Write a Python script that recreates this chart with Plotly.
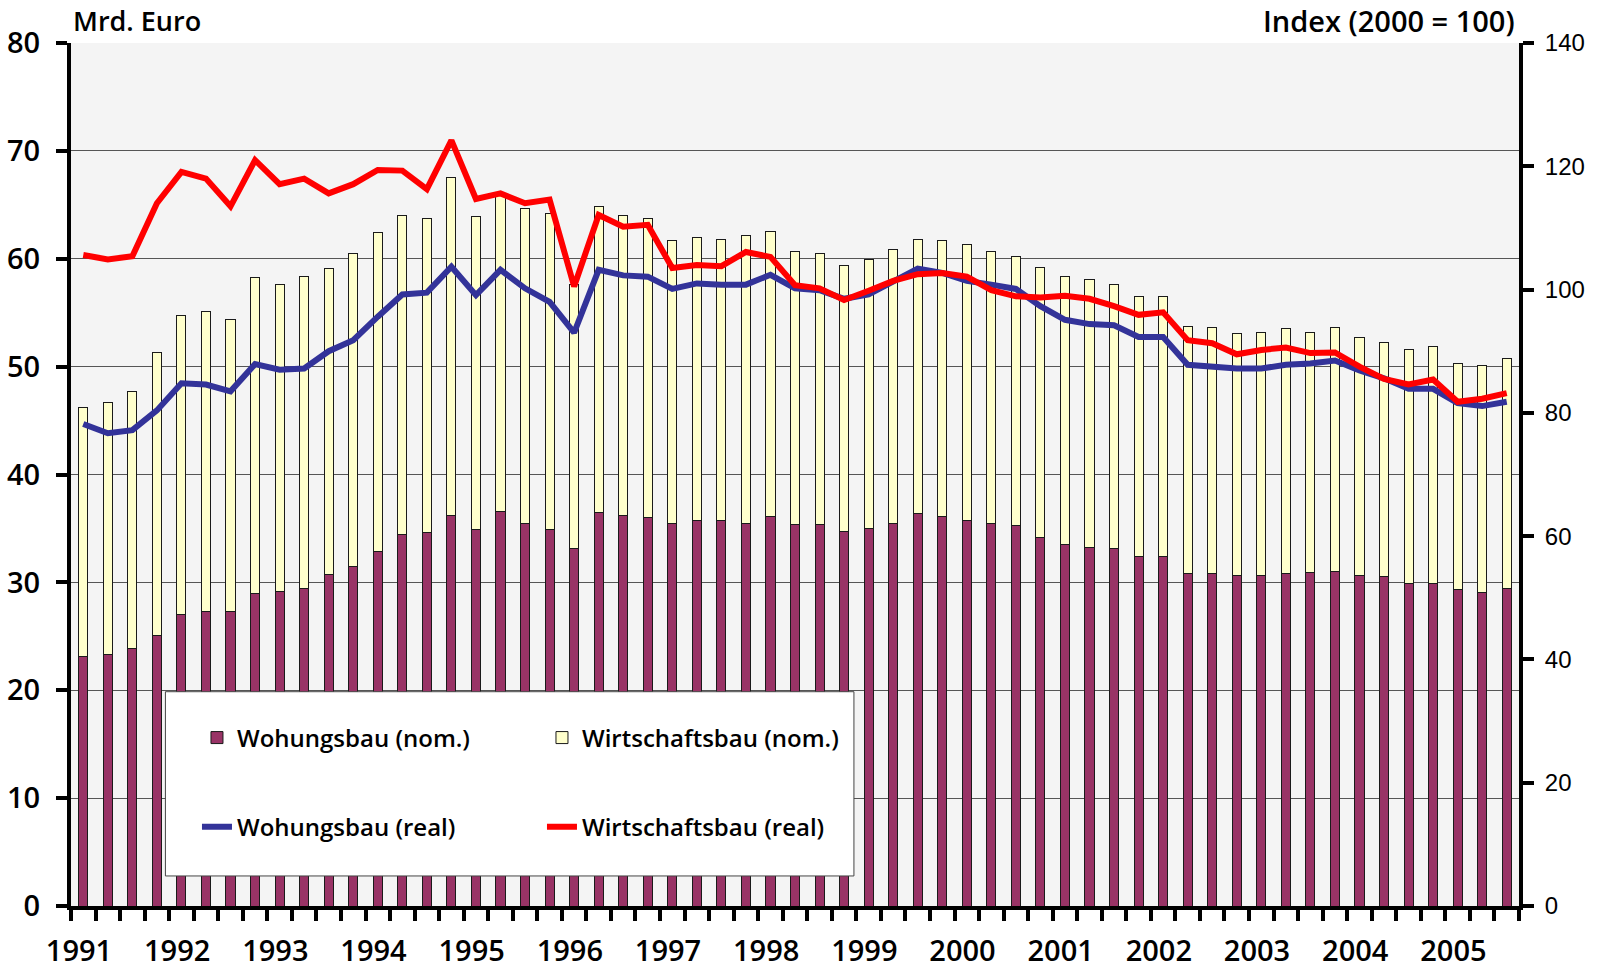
import plotly.graph_objects as go

# ---------------- data ----------------
quarters = [f"{y} Q{q}" for y in range(1991, 2006) for q in range(1, 5)][:59]
years = [str(y) for y in range(1991, 2006)]

wohnungsbau_nom = [23.1, 23.3, 23.9, 25.1, 27.0, 27.3, 27.3, 29.0, 29.2, 29.4,
                   30.7, 31.5, 32.9, 34.4, 34.6, 36.2, 34.9, 36.6, 35.5, 34.9,
                   33.1, 36.5, 36.2, 36.0, 35.5, 35.7, 35.7, 35.5, 36.1, 35.4,
                   35.4, 34.7, 35.0, 35.5, 36.4, 36.1, 35.7, 35.5, 35.3, 34.2,
                   33.5, 33.2, 33.1, 32.4, 32.4, 30.8, 30.8, 30.6, 30.6, 30.8,
                   30.9, 31.0, 30.6, 30.5, 29.9, 29.9, 29.3, 29.1, 29.4]

wirtschaftsbau_nom = [23.1, 23.4, 23.8, 26.2, 27.7, 27.8, 27.1, 29.3, 28.4, 29.0,
                      28.4, 29.0, 29.5, 29.6, 29.1, 31.3, 29.0, 29.3, 29.2, 29.3,
                      24.5, 28.3, 27.8, 27.7, 26.2, 26.3, 26.1, 26.7, 26.4, 25.3,
                      25.1, 24.7, 24.9, 25.4, 25.4, 25.6, 25.6, 25.2, 24.9, 25.0,
                      24.9, 24.9, 24.5, 24.1, 24.1, 22.9, 22.8, 22.5, 22.6, 22.7,
                      22.3, 22.6, 22.1, 21.7, 21.7, 22.0, 21.0, 21.0, 21.4]

wohnungsbau_real = [78.2, 76.7, 77.2, 80.4, 84.8, 84.6, 83.5, 87.9, 87.0, 87.2,
                    90.0, 91.8, 95.6, 99.2, 99.5, 103.7, 99.1, 103.2, 100.2, 98.0,
                    93.0, 103.2, 102.3, 102.1, 100.1, 101.0, 100.8, 100.8, 102.4, 100.2,
                    99.9, 98.5, 99.2, 101.3, 103.4, 102.7, 101.4, 100.8, 100.1, 97.3,
                    95.1, 94.4, 94.2, 92.3, 92.3, 87.8, 87.5, 87.2, 87.2, 87.8,
                    88.0, 88.5, 86.9, 85.6, 83.9, 83.9, 81.6, 81.1, 81.8]

wirtschaftsbau_real = [105.6, 104.9, 105.4, 114.0, 119.1, 118.0, 113.5, 121.0, 117.1, 118.0,
                       115.6, 117.1, 119.4, 119.3, 116.3, 124.2, 114.7, 115.6, 114.0, 114.6,
                       100.5, 112.1, 110.2, 110.5, 103.5, 104.0, 103.8, 106.1, 105.3, 100.7,
                       100.2, 98.3, 99.8, 101.4, 102.5, 102.7, 102.1, 99.9, 98.9, 98.7,
                       99.0, 98.5, 97.3, 95.9, 96.3, 91.8, 91.3, 89.5, 90.2, 90.6,
                       89.7, 89.8, 87.5, 85.5, 84.6, 85.4, 81.8, 82.3, 83.2]

# ---------------- figure ----------------
x = list(range(len(quarters)))
boundaries = [i - 0.5 for i in range(len(quarters) + 1)]
boundary_text = [years[i // 4] if (i % 4 == 0 and i < len(quarters)) else ""
                 for i in range(len(quarters) + 1)]

FONT = "Open Sans"
W = 600
fig = go.Figure()

fig.add_trace(go.Bar(
    x=x, y=wohnungsbau_nom, name="Wohungsbau (nom.)", customdata=quarters,
    marker=dict(color="#993366", line=dict(color="#1a1a1a", width=1)),
    width=0.37, legend="legend",
    hovertemplate="%{customdata}: %{y} Mrd. Euro<extra>Wohungsbau (nom.)</extra>"))
fig.add_trace(go.Bar(
    x=x, y=wirtschaftsbau_nom, name="Wirtschaftsbau (nom.)", customdata=quarters,
    marker=dict(color="#FFFFCC", line=dict(color="#1a1a1a", width=1)),
    width=0.37, legend="legend",
    hovertemplate="%{customdata}: %{y} Mrd. Euro<extra>Wirtschaftsbau (nom.)</extra>"))
fig.add_trace(go.Scatter(
    x=x, y=wohnungsbau_real, name="Wohungsbau (real)", customdata=quarters,
    mode="lines", line=dict(color="#333399", width=6), yaxis="y2", legend="legend2",
    hovertemplate="%{customdata}: %{y}<extra>Wohungsbau (real)</extra>"))
fig.add_trace(go.Scatter(
    x=x, y=wirtschaftsbau_real, name="Wirtschaftsbau (real)", customdata=quarters,
    mode="lines", line=dict(color="#FF0000", width=6), yaxis="y2", legend="legend2",
    hovertemplate="%{customdata}: %{y}<extra>Wirtschaftsbau (real)</extra>"))

legend_common = dict(orientation="h", xanchor="left", yanchor="middle",
                     entrywidth=300, entrywidthmode="pixels",
                     bgcolor="rgba(0,0,0,0)", borderwidth=0,
                     font=dict(family=FONT, size=24, color="black", weight=W),
                     traceorder="normal", itemclick=False, itemdoubleclick=False)

fig.update_layout(
    width=1602, height=971,
    margin=dict(l=71, r=83, t=43, b=65, autoexpand=False),
    paper_bgcolor="white", plot_bgcolor="#f4f4f4",
    barmode="stack",
    font=dict(family=FONT, color="black"),
    xaxis=dict(range=[-0.5, len(quarters) - 0.5], tickmode="array",
               tickvals=boundaries, ticktext=boundary_text,
               ticks="outside", ticklen=11, tickwidth=4, tickcolor="black",
               showline=True, linewidth=4, linecolor="black",
               showgrid=False, zeroline=False, automargin=False,
               tickfont=dict(family=FONT, size=29, color="black", weight=W),
               ticklabelshift=8, ticklabelstandoff=5),
    yaxis=dict(range=[0, 80], dtick=10, showgrid=True, gridcolor="#555555", gridwidth=1,
               showline=True, linewidth=4, linecolor="black", zeroline=False,
               ticks="outside", ticklen=11, tickwidth=4, tickcolor="black",
               automargin=False,
               tickfont=dict(family=FONT, size=29, color="black", weight=W),
               ticklabelstandoff=10),
    yaxis2=dict(range=[0, 140], dtick=20, overlaying="y", side="right", anchor="x",
                showgrid=False, zeroline=False, automargin=False,
                showline=True, linewidth=4, linecolor="black",
                ticks="outside", ticklen=11, tickwidth=4, tickcolor="black",
                tickfont=dict(family="Liberation Sans", size=24, color="black"),
                ticklabelstandoff=6),
    yaxis3=dict(range=[0, 140], dtick=20, overlaying="y", side="right", anchor="x",
                showgrid=False, zeroline=False, showline=False, automargin=False,
                ticks="inside", ticklen=10, tickwidth=4, tickcolor="black",
                showticklabels=False),
    legend=dict(x=0.087, y=0.1947, **legend_common),
    legend2=dict(x=0.087, y=0.0915, **legend_common),
    shapes=[dict(type="rect", xref="paper", yref="paper",
                 x0=0.0652, x1=0.5407, y0=0.0348, y1=0.2483,
                 fillcolor="white", line=dict(color="#444444", width=1),
                 layer="above")],
    annotations=[
        dict(text="Mrd. Euro", xref="paper", yref="paper", x=0, y=1,
             xanchor="left", yanchor="bottom", showarrow=False, yshift=2,
             font=dict(family=FONT, size=27, color="black", weight=W)),
        dict(text="Index (2000 = 100)", xref="paper", yref="paper", x=1, y=1,
             xanchor="right", yanchor="bottom", showarrow=False, yshift=1, xshift=-2,
             font=dict(family=FONT, size=29, color="black", weight=W)),
    ],
    showlegend=True,
)

fig.write_html("out.html",
               config={"displayModeBar": False},
               post_script="document.body.style.margin='0px';document.body.style.overflow='hidden';")
